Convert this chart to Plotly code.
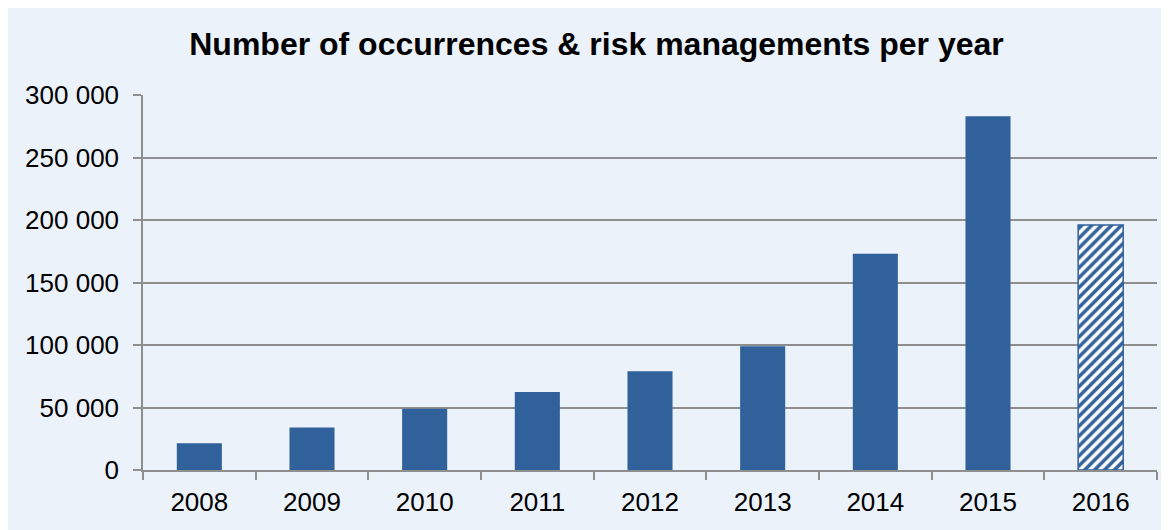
import plotly.graph_objects as go

years = ["2008", "2009", "2010", "2011", "2012", "2013", "2014", "2015", "2016"]
values = [21500, 34000, 49000, 62500, 79000, 99000, 173000, 283000, 196000]
y_ticks = [0, 50000, 100000, 150000, 200000, 250000, 300000]
y_tick_labels = ["0", "50 000", "100 000", "150 000", "200 000", "250 000", "300 000"]
title_text = "Number of occurrences & risk managements per year"

BLUE = "#31619A"
BG = "#EBF2FA"
GRID = "#8E8E8E"

# page body adds an 8px offset; figure is sized to fit the window
W, H = 1161, 522
L, R, T, B = 135, 12, 87, 60

fig = go.Figure()
# actual years
fig.add_trace(go.Bar(
    x=years[:-1], y=values[:-1],
    marker=dict(color=BLUE, line=dict(width=0)),
    width=0.4, hoverinfo="x+y",
))
# partial year (hatched)
fig.add_trace(go.Bar(
    x=years[-1:], y=values[-1:],
    marker=dict(
        color=BLUE,
        line=dict(color=BLUE, width=1.5),
        pattern=dict(shape="/", fillmode="replace", fgcolor=BLUE, bgcolor="white",
                     size=7, solidity=0.5),
    ),
    width=0.4, hoverinfo="x+y",
))

fig.update_layout(
    width=W, height=H,
    margin=dict(l=L, r=R, t=T, b=B),
    paper_bgcolor=BG,
    plot_bgcolor=BG,
    showlegend=False,
    barmode="overlay",
    font=dict(family="Liberation Sans, Arial, sans-serif", color="black"),
    title=dict(text="<b>" + title_text + "</b>", x=(596.5 - 8) / W, xanchor="center",
               y=1 - 36 / H, yanchor="middle",
               font=dict(size=32, color="black")),
    xaxis=dict(
        type="category", categoryorder="array", categoryarray=years,
        showline=True, linecolor=GRID, linewidth=1.5,
        ticks="outside", tickson="boundaries", ticklen=8, tickcolor=GRID, tickwidth=1.5,
        tickfont=dict(size=26), showgrid=False, ticklabelstandoff=8,
    ),
    yaxis=dict(
        range=[0, 300000],
        tickvals=y_ticks, ticktext=y_tick_labels,
        showline=True, linecolor=GRID, linewidth=1.5,
        ticks="outside", ticklen=8, tickcolor=GRID, tickwidth=1.5,
        showgrid=True, gridcolor=GRID, gridwidth=1.5,
        zeroline=False, ticklabelstandoff=9,
        tickfont=dict(size=26),
    ),
)

fig.write_html("out.html")
